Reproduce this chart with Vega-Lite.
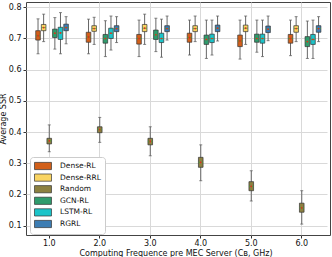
{
  "$schema": "https://vega.github.io/schema/vega-lite/v6.json",
  "width": 304,
  "height": 233,
  "autosize": {"type": "none"},
  "padding": {"left": 26, "top": 2, "right": 2, "bottom": 22},
  "config": {
    "font": "DejaVu Sans",
    "view": {"stroke": "#444", "strokeWidth": 1},
    "axis": {"labelFont": "DejaVu Sans", "titleFont": "DejaVu Sans", "labelFontSize": 8, "titleFontSize": 8, "titleFontWeight": "normal", "labelColor": "#111", "titleColor": "#111", "gridColor": "#d9d9d9", "gridWidth": 1, "tickColor": "#333", "tickSize": 3, "domain": false, "labelOverlap": false}
  },
  "data": {
    "values": [
      {"x": "1.0", "method": "Dense-RL", "lo": 0.651, "q1": 0.695, "med": 0.709, "q3": 0.725, "hi": 0.763},
      {"x": "1.0", "method": "Dense-RRL", "lo": 0.690, "q1": 0.725, "med": 0.735, "q3": 0.745, "hi": 0.778},
      {"x": "1.0", "method": "Random", "lo": 0.337, "q1": 0.362, "med": 0.372, "q3": 0.380, "hi": 0.423},
      {"x": "1.0", "method": "GCN-RL", "lo": 0.666, "q1": 0.703, "med": 0.717, "q3": 0.730, "hi": 0.767},
      {"x": "1.0", "method": "LSTM-RL", "lo": 0.651, "q1": 0.697, "med": 0.718, "q3": 0.736, "hi": 0.783},
      {"x": "1.0", "method": "RGRL", "lo": 0.683, "q1": 0.725, "med": 0.735, "q3": 0.746, "hi": 0.770},
      {"x": "2.0", "method": "Dense-RL", "lo": 0.651, "q1": 0.688, "med": 0.705, "q3": 0.720, "hi": 0.762},
      {"x": "2.0", "method": "Dense-RRL", "lo": 0.681, "q1": 0.723, "med": 0.732, "q3": 0.741, "hi": 0.768},
      {"x": "2.0", "method": "Random", "lo": 0.367, "q1": 0.398, "med": 0.408, "q3": 0.417, "hi": 0.447},
      {"x": "2.0", "method": "GCN-RL", "lo": 0.642, "q1": 0.685, "med": 0.700, "q3": 0.713, "hi": 0.757},
      {"x": "2.0", "method": "LSTM-RL", "lo": 0.663, "q1": 0.700, "med": 0.717, "q3": 0.733, "hi": 0.772},
      {"x": "2.0", "method": "RGRL", "lo": 0.687, "q1": 0.722, "med": 0.732, "q3": 0.741, "hi": 0.770},
      {"x": "3.0", "method": "Dense-RL", "lo": 0.642, "q1": 0.682, "med": 0.700, "q3": 0.713, "hi": 0.759},
      {"x": "3.0", "method": "Dense-RRL", "lo": 0.681, "q1": 0.722, "med": 0.733, "q3": 0.745, "hi": 0.778},
      {"x": "3.0", "method": "Random", "lo": 0.324, "q1": 0.359, "med": 0.370, "q3": 0.380, "hi": 0.417},
      {"x": "3.0", "method": "GCN-RL", "lo": 0.658, "q1": 0.697, "med": 0.712, "q3": 0.727, "hi": 0.765},
      {"x": "3.0", "method": "LSTM-RL", "lo": 0.640, "q1": 0.687, "med": 0.700, "q3": 0.717, "hi": 0.762},
      {"x": "3.0", "method": "RGRL", "lo": 0.695, "q1": 0.722, "med": 0.732, "q3": 0.741, "hi": 0.772},
      {"x": "4.0", "method": "Dense-RL", "lo": 0.647, "q1": 0.688, "med": 0.703, "q3": 0.717, "hi": 0.759},
      {"x": "4.0", "method": "Dense-RRL", "lo": 0.690, "q1": 0.722, "med": 0.732, "q3": 0.741, "hi": 0.772},
      {"x": "4.0", "method": "Random", "lo": 0.244, "q1": 0.287, "med": 0.303, "q3": 0.319, "hi": 0.359},
      {"x": "4.0", "method": "GCN-RL", "lo": 0.636, "q1": 0.681, "med": 0.697, "q3": 0.711, "hi": 0.759},
      {"x": "4.0", "method": "LSTM-RL", "lo": 0.647, "q1": 0.687, "med": 0.700, "q3": 0.714, "hi": 0.759},
      {"x": "4.0", "method": "RGRL", "lo": 0.692, "q1": 0.722, "med": 0.733, "q3": 0.743, "hi": 0.772},
      {"x": "5.0", "method": "Dense-RL", "lo": 0.634, "q1": 0.674, "med": 0.692, "q3": 0.711, "hi": 0.759},
      {"x": "5.0", "method": "Dense-RRL", "lo": 0.681, "q1": 0.722, "med": 0.733, "q3": 0.743, "hi": 0.772},
      {"x": "5.0", "method": "Random", "lo": 0.179, "q1": 0.212, "med": 0.226, "q3": 0.241, "hi": 0.276},
      {"x": "5.0", "method": "GCN-RL", "lo": 0.656, "q1": 0.688, "med": 0.700, "q3": 0.714, "hi": 0.759},
      {"x": "5.0", "method": "LSTM-RL", "lo": 0.642, "q1": 0.685, "med": 0.700, "q3": 0.714, "hi": 0.759},
      {"x": "5.0", "method": "RGRL", "lo": 0.693, "q1": 0.719, "med": 0.730, "q3": 0.740, "hi": 0.772},
      {"x": "6.0", "method": "Dense-RL", "lo": 0.645, "q1": 0.685, "med": 0.700, "q3": 0.713, "hi": 0.759},
      {"x": "6.0", "method": "Dense-RRL", "lo": 0.690, "q1": 0.720, "med": 0.732, "q3": 0.741, "hi": 0.770},
      {"x": "6.0", "method": "Random", "lo": 0.105, "q1": 0.143, "med": 0.157, "q3": 0.172, "hi": 0.212},
      {"x": "6.0", "method": "GCN-RL", "lo": 0.636, "q1": 0.674, "med": 0.690, "q3": 0.706, "hi": 0.756},
      {"x": "6.0", "method": "LSTM-RL", "lo": 0.636, "q1": 0.681, "med": 0.697, "q3": 0.713, "hi": 0.759},
      {"x": "6.0", "method": "RGRL", "lo": 0.690, "q1": 0.720, "med": 0.732, "q3": 0.741, "hi": 0.770}
    ]
  },
  "encoding": {
    "x": {
      "field": "x", "type": "ordinal",
      "scale": {"paddingInner": 0, "paddingOuter": 0, "range": [-2, 301]},
      "axis": {"title": "Computing Frequence pre MEC Server (Cʙ, GHz)", "labelAngle": 0, "grid": true, "bandPosition": 0.5, "labelPadding": 1, "titlePadding": 2}
    },
    "xOffset": {
      "field": "method", "type": "nominal",
      "scale": {"domain": ["", "Dense-RL", "Dense-RRL", "Random", "GCN-RL", "LSTM-RL", "RGRL"], "paddingInner": 0, "paddingOuter": 1.36}
    }
  },
  "layer": [
    {
      "mark": {"type": "rule", "color": "#666", "strokeWidth": 1},
      "encoding": {
        "y": {"field": "lo", "type": "quantitative",
          "scale": {"domain": [0.07, 0.817], "nice": false, "zero": false},
          "axis": {"title": "Average SSR", "values": [0.1, 0.2, 0.3, 0.4, 0.5, 0.6, 0.7, 0.8], "format": ".1f", "grid": true, "labelPadding": 2, "titlePadding": 1, "labelOverlap": false}},
        "y2": {"field": "hi"}
      }
    },
    {
      "mark": {"type": "tick", "color": "#555", "size": 3, "thickness": 1},
      "encoding": {"y": {"field": "lo", "type": "quantitative",
          "axis": {"title": "Average SSR", "values": [0.1, 0.2, 0.3, 0.4, 0.5, 0.6, 0.7, 0.8], "format": ".1f", "grid": true, "labelPadding": 2, "titlePadding": 1, "labelOverlap": false}}}
    },
    {
      "mark": {"type": "tick", "color": "#555", "size": 3, "thickness": 1},
      "encoding": {"y": {"field": "hi", "type": "quantitative",
          "axis": {"title": "Average SSR", "values": [0.1, 0.2, 0.3, 0.4, 0.5, 0.6, 0.7, 0.8], "format": ".1f", "grid": true, "labelPadding": 2, "titlePadding": 1, "labelOverlap": false}}}
    },
    {
      "mark": {"type": "bar", "size": 4.6, "stroke": "#333", "strokeWidth": 0.7, "opacity": 1},
      "encoding": {
        "y": {"field": "q1", "type": "quantitative",
          "axis": {"title": "Average SSR", "values": [0.1, 0.2, 0.3, 0.4, 0.5, 0.6, 0.7, 0.8], "format": ".1f", "grid": true, "labelPadding": 2, "titlePadding": 1, "labelOverlap": false}},
        "y2": {"field": "q3"},
        "color": {
          "field": "method", "type": "nominal",
          "scale": {"domain": ["Dense-RL", "Dense-RRL", "Random", "GCN-RL", "LSTM-RL", "RGRL"], "range": ["#d2601a", "#f9d462", "#8c8040", "#2f9b6c", "#1cc4c9", "#3d7db3"]},
          "legend": {
            "title": null, "orient": "none", "legendX": 4, "legendY": 155,
            "symbolType": "M-2,-0.85H2V0.85H-2Z", "symbolSize": 72, "symbolStrokeColor": "#333", "symbolStrokeWidth": 0.7, "symbolOpacity": 1,
            "symbolOffset": 4, "labelOffset": 12, "labelFontSize": 7.5, "labelFont": "DejaVu Sans", "labelColor": "#111",
            "rowPadding": -0.4, "padding": 4, "fillColor": "white", "strokeColor": "#ccc", "cornerRadius": 3
          }
        }
      }
    },
    {
      "mark": {"type": "tick", "color": "#3aa63a", "size": 4.6, "thickness": 1},
      "encoding": {"y": {"field": "med", "type": "quantitative",
          "axis": {"title": "Average SSR", "values": [0.1, 0.2, 0.3, 0.4, 0.5, 0.6, 0.7, 0.8], "format": ".1f", "grid": true, "labelPadding": 2, "titlePadding": 1, "labelOverlap": false}}}
    },
    {
      "mark": {"type": "point", "shape": "circle", "filled": true, "color": "#e8251f", "size": 3, "opacity": 1},
      "encoding": {"y": {"field": "med", "type": "quantitative",
          "axis": {"title": "Average SSR", "values": [0.1, 0.2, 0.3, 0.4, 0.5, 0.6, 0.7, 0.8], "format": ".1f", "grid": true, "labelPadding": 2, "titlePadding": 1, "labelOverlap": false}}}
    }
  ]
}
